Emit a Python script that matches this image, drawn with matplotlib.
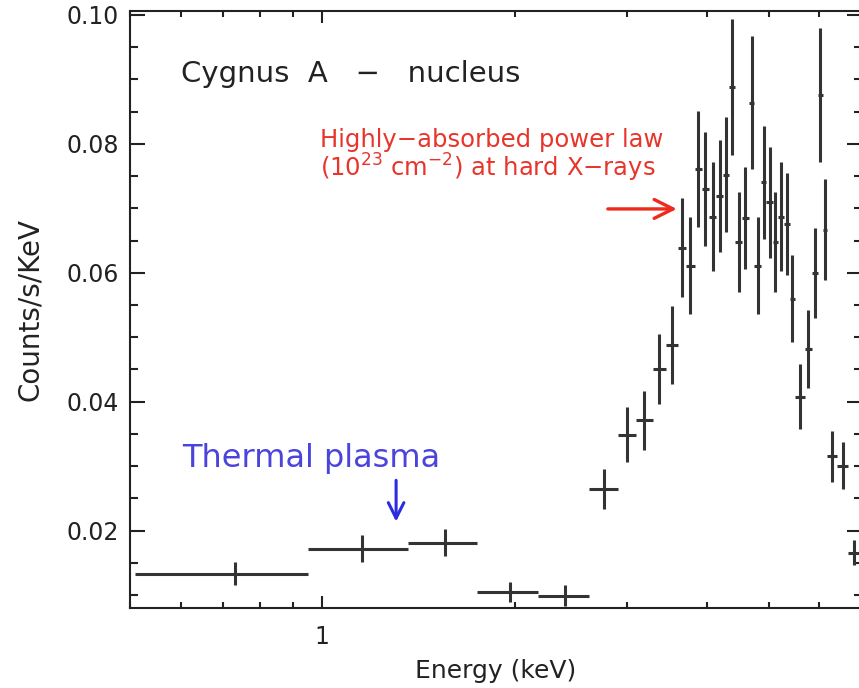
import numpy as np
import matplotlib
matplotlib.use("Agg")
import matplotlib.pyplot as plt
from matplotlib.ticker import LogLocator, NullFormatter, FixedLocator, FixedFormatter

# --- espectro del nucleo (cuentas/s/keV por canal) ---
# bordes de los canales en keV
bordes_kev = [0.51, 0.95, 1.36, 1.75, 2.18, 2.62, 2.90, 3.10, 3.29, 3.45,
              3.60, 3.71, 3.83, 3.93, 4.03, 4.14, 4.24, 4.33, 4.43, 4.54,
              4.65, 4.75, 4.86, 4.96, 5.07, 5.17, 5.28, 5.39, 5.50, 5.69,
              5.85, 5.97, 6.08, 6.17, 6.40, 6.66, 6.94]
cuentas = [0.0133, 0.0172, 0.0181, 0.0105, 0.0099, 0.0265, 0.0349, 0.0371,
           0.0451, 0.0488, 0.0639, 0.0611, 0.0761, 0.0730, 0.0687, 0.0719,
           0.0752, 0.0888, 0.0648, 0.0685, 0.0864, 0.0611, 0.0740, 0.0709,
           0.0648, 0.0687, 0.0676, 0.0560, 0.0408, 0.0482, 0.0600, 0.0876,
           0.0667, 0.0315, 0.0301, 0.0166]
errores = [0.0018, 0.0021, 0.0021, 0.0016, 0.0016, 0.0031, 0.0043, 0.0046,
           0.0054, 0.0060, 0.0077, 0.0075, 0.0090, 0.0088, 0.0085, 0.0087,
           0.0089, 0.0105, 0.0078, 0.0079, 0.0103, 0.0075, 0.0088, 0.0086,
           0.0078, 0.0085, 0.0079, 0.0068, 0.0050, 0.0060, 0.0070, 0.0104,
           0.0079, 0.0039, 0.0036, 0.0020]

TITULO = "Cygnus  A   \u2212   nucleus"
TEXTO_TERMICO = "Thermal plasma"
TEXTO_ABSORBIDO_1 = "Highly\u2212absorbed power law"
TEXTO_ABSORBIDO_2 = "(10$^{23}$ cm$^{-2}$) at hard X\u2212rays"

AZUL = "#4b44dc"
ROJO = "#e8352b"
GRIS = "#333333"

plt.rcParams['font.family'] = ['DejaVu Sans']

bordes = np.array(bordes_kev)
centros = (bordes[:-1] + bordes[1:]) / 2
xerr = [centros - bordes[:-1], bordes[1:] - centros]

fig = plt.figure(figsize=(8.59, 6.88), dpi=100)
ax = fig.add_axes([130 / 859, 80 / 688, 732 / 859, 597 / 688])

ax.errorbar(centros, cuentas, xerr=xerr, yerr=errores, fmt='none',
            ecolor=GRIS, elinewidth=2.2, capsize=0)

ax.set_xscale('log')
ax.set_xlim(0.5, 7.0)
ax.set_ylim(0.008, 0.1006)

# ejes estilo IDL: ticks hacia dentro en los cuatro lados
ax.xaxis.set_major_locator(FixedLocator([1]))
ax.xaxis.set_major_formatter(FixedFormatter(['1']))
ax.xaxis.set_minor_locator(LogLocator(base=10, subs=np.arange(2, 10)))
ax.xaxis.set_minor_formatter(NullFormatter())
ax.set_yticks([0.02, 0.04, 0.06, 0.08, 0.10])
ax.set_yticklabels(['0.02', '0.04', '0.06', '0.08', '0.10'])
ax.set_yticks(np.arange(0.01, 0.1, 0.005), minor=True)

ax.tick_params(axis='both', which='both', direction='in', top=True, right=True,
               width=1.5, labelsize=17, colors='#222222')
ax.tick_params(axis='x', which='major', length=8.6, pad=12)
ax.tick_params(axis='x', which='minor', length=4.3)
ax.tick_params(axis='y', which='major', length=10.8, pad=8)
ax.tick_params(axis='y', which='minor', length=5.8)
for lado in ax.spines.values():
    lado.set_linewidth(1.5)
    lado.set_color('#222222')

ax.set_xlabel("Energy (keV)", fontsize=18, color='#222222')
ax.set_ylabel("Counts/s/KeV", fontsize=20, color='#222222')
ax.xaxis.set_label_coords(0.5, -0.085)
ax.yaxis.set_label_coords(-0.118, 0.5)

ax.text(0.600, 0.0896, TITULO, fontsize=21, color='#222222',
        ha='left', va='baseline')

ax.text(0.961, 0.0299, TEXTO_TERMICO, fontsize=23, color=AZUL,
        ha='center', va='baseline')
ax.annotate('', xy=(1.305, 0.0214), xytext=(1.305, 0.0278),
            arrowprops=dict(arrowstyle='->', color='#2b2be0', lw=2.2,
                            mutation_scale=28, shrinkA=0, shrinkB=0))

ax.text(0.993, 0.0795, TEXTO_ABSORBIDO_1, fontsize=17.5, color=ROJO,
        ha='left', va='baseline')
ax.text(0.993, 0.0749, TEXTO_ABSORBIDO_2, fontsize=17.5, color=ROJO,
        ha='left', va='baseline')
ax.annotate('', xy=(3.59, 0.0699), xytext=(2.80, 0.0699),
            arrowprops=dict(arrowstyle='->', color='#ee2a1c', lw=2.4,
                            mutation_scale=34, shrinkA=0, shrinkB=0))

fig.savefig('out.png', dpi=100)
